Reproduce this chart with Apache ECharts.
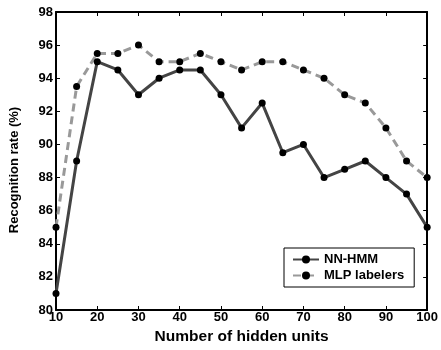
<!DOCTYPE html>
<html><head><meta charset="utf-8">
<script src="https://cdn.jsdelivr.net/npm/echarts@6/dist/echarts.min.js"></script>
<style>html,body{margin:0;padding:0;background:#fff}#c{width:441px;height:350px}</style>
</head><body><div id="c"></div>
<script>
const hiddenUnits = [10,15,20,25,30,35,40,45,50,55,60,65,70,75,80,85,90,95,100];
const nnHmm = [81,89,95,94.5,93,94,94.5,94.5,93,91,92.5,89.5,90,88,88.5,89,88,87,85];
const mlpLabelers = [85,93.5,95.5,95.5,96,95,95,95.5,95,94.5,95,95,94.5,94,93,92.5,91,89,88];
const seriesNames = ['NN-HMM','MLP labelers'];
const xTitle = 'Number of hidden units';
const yTitle = 'Recognition rate (%)';

const font = 'Arial, "Liberation Sans", Helvetica, sans-serif';
const pairs = arr => hiddenUnits.map((x,i)=>[x,arr[i]]);
const chart = echarts.init(document.getElementById('c'), null, {renderer:'canvas'});
const tickStyle = {show:true, inside:true, length:4, lineStyle:{color:'#000', width:1}};
chart.setOption({
  animation:false,
  backgroundColor:'#fff',
  grid:{left:56, right:9, top:12, bottom:40, containLabel:false},
  graphic:[{
    type:'text', x:14, y:170, rotation:Math.PI/2,
    style:{text:yTitle, fill:'#000', font:'bold 13px ' + font, align:'center', verticalAlign:'middle'}
  }],
  xAxis:[{
    type:'value', min:10, max:100, interval:10, position:'bottom',
    axisLine:{show:true, lineStyle:{color:'#000', width:2}},
    axisTick:tickStyle, splitLine:{show:false},
    axisLabel:{color:'#000', fontWeight:'bold', fontSize:13, fontFamily:font, margin:1},
    name:xTitle, nameLocation:'middle', nameGap:19,
    nameTextStyle:{color:'#000', fontWeight:'bold', fontSize:15.5, fontFamily:font}
  },{
    type:'value', min:10, max:100, interval:10, position:'top',
    axisLine:{show:true, lineStyle:{color:'#000', width:2}},
    axisTick:tickStyle, axisLabel:{show:false}, splitLine:{show:false}
  }],
  yAxis:[{
    type:'value', min:80, max:98, interval:2, position:'left',
    axisLine:{show:true, lineStyle:{color:'#000', width:2}},
    axisTick:tickStyle, splitLine:{show:false},
    axisLabel:{color:'#000', fontWeight:'bold', fontSize:13, fontFamily:font, margin:3}
  },{
    type:'value', min:80, max:98, interval:2, position:'right',
    axisLine:{show:true, lineStyle:{color:'#000', width:2}},
    axisTick:tickStyle, axisLabel:{show:false}, splitLine:{show:false}
  }],
  legend:{
    left:284, top:248, orient:'vertical', itemGap:3, itemWidth:26, itemHeight:10,
    padding:[5,10,5,8],
    borderColor:'#000', borderWidth:1, backgroundColor:'#fff',
    textStyle:{color:'#000', fontWeight:'bold', fontSize:13, fontFamily:font},
    data:seriesNames
  },
  series:[{
    name:seriesNames[0], type:'line', data:pairs(nnHmm),
    symbol:'circle', symbolSize:7,
    lineStyle:{color:'#444', width:3},
    itemStyle:{color:'#000', borderWidth:0},
    z:3
  },{
    name:seriesNames[1], type:'line', data:pairs(mlpLabelers),
    symbol:'circle', symbolSize:7,
    lineStyle:{color:'#999', width:3, type:[8,5]},
    itemStyle:{color:'#000', borderWidth:0},
    z:2
  }]
});
</script></body></html>
